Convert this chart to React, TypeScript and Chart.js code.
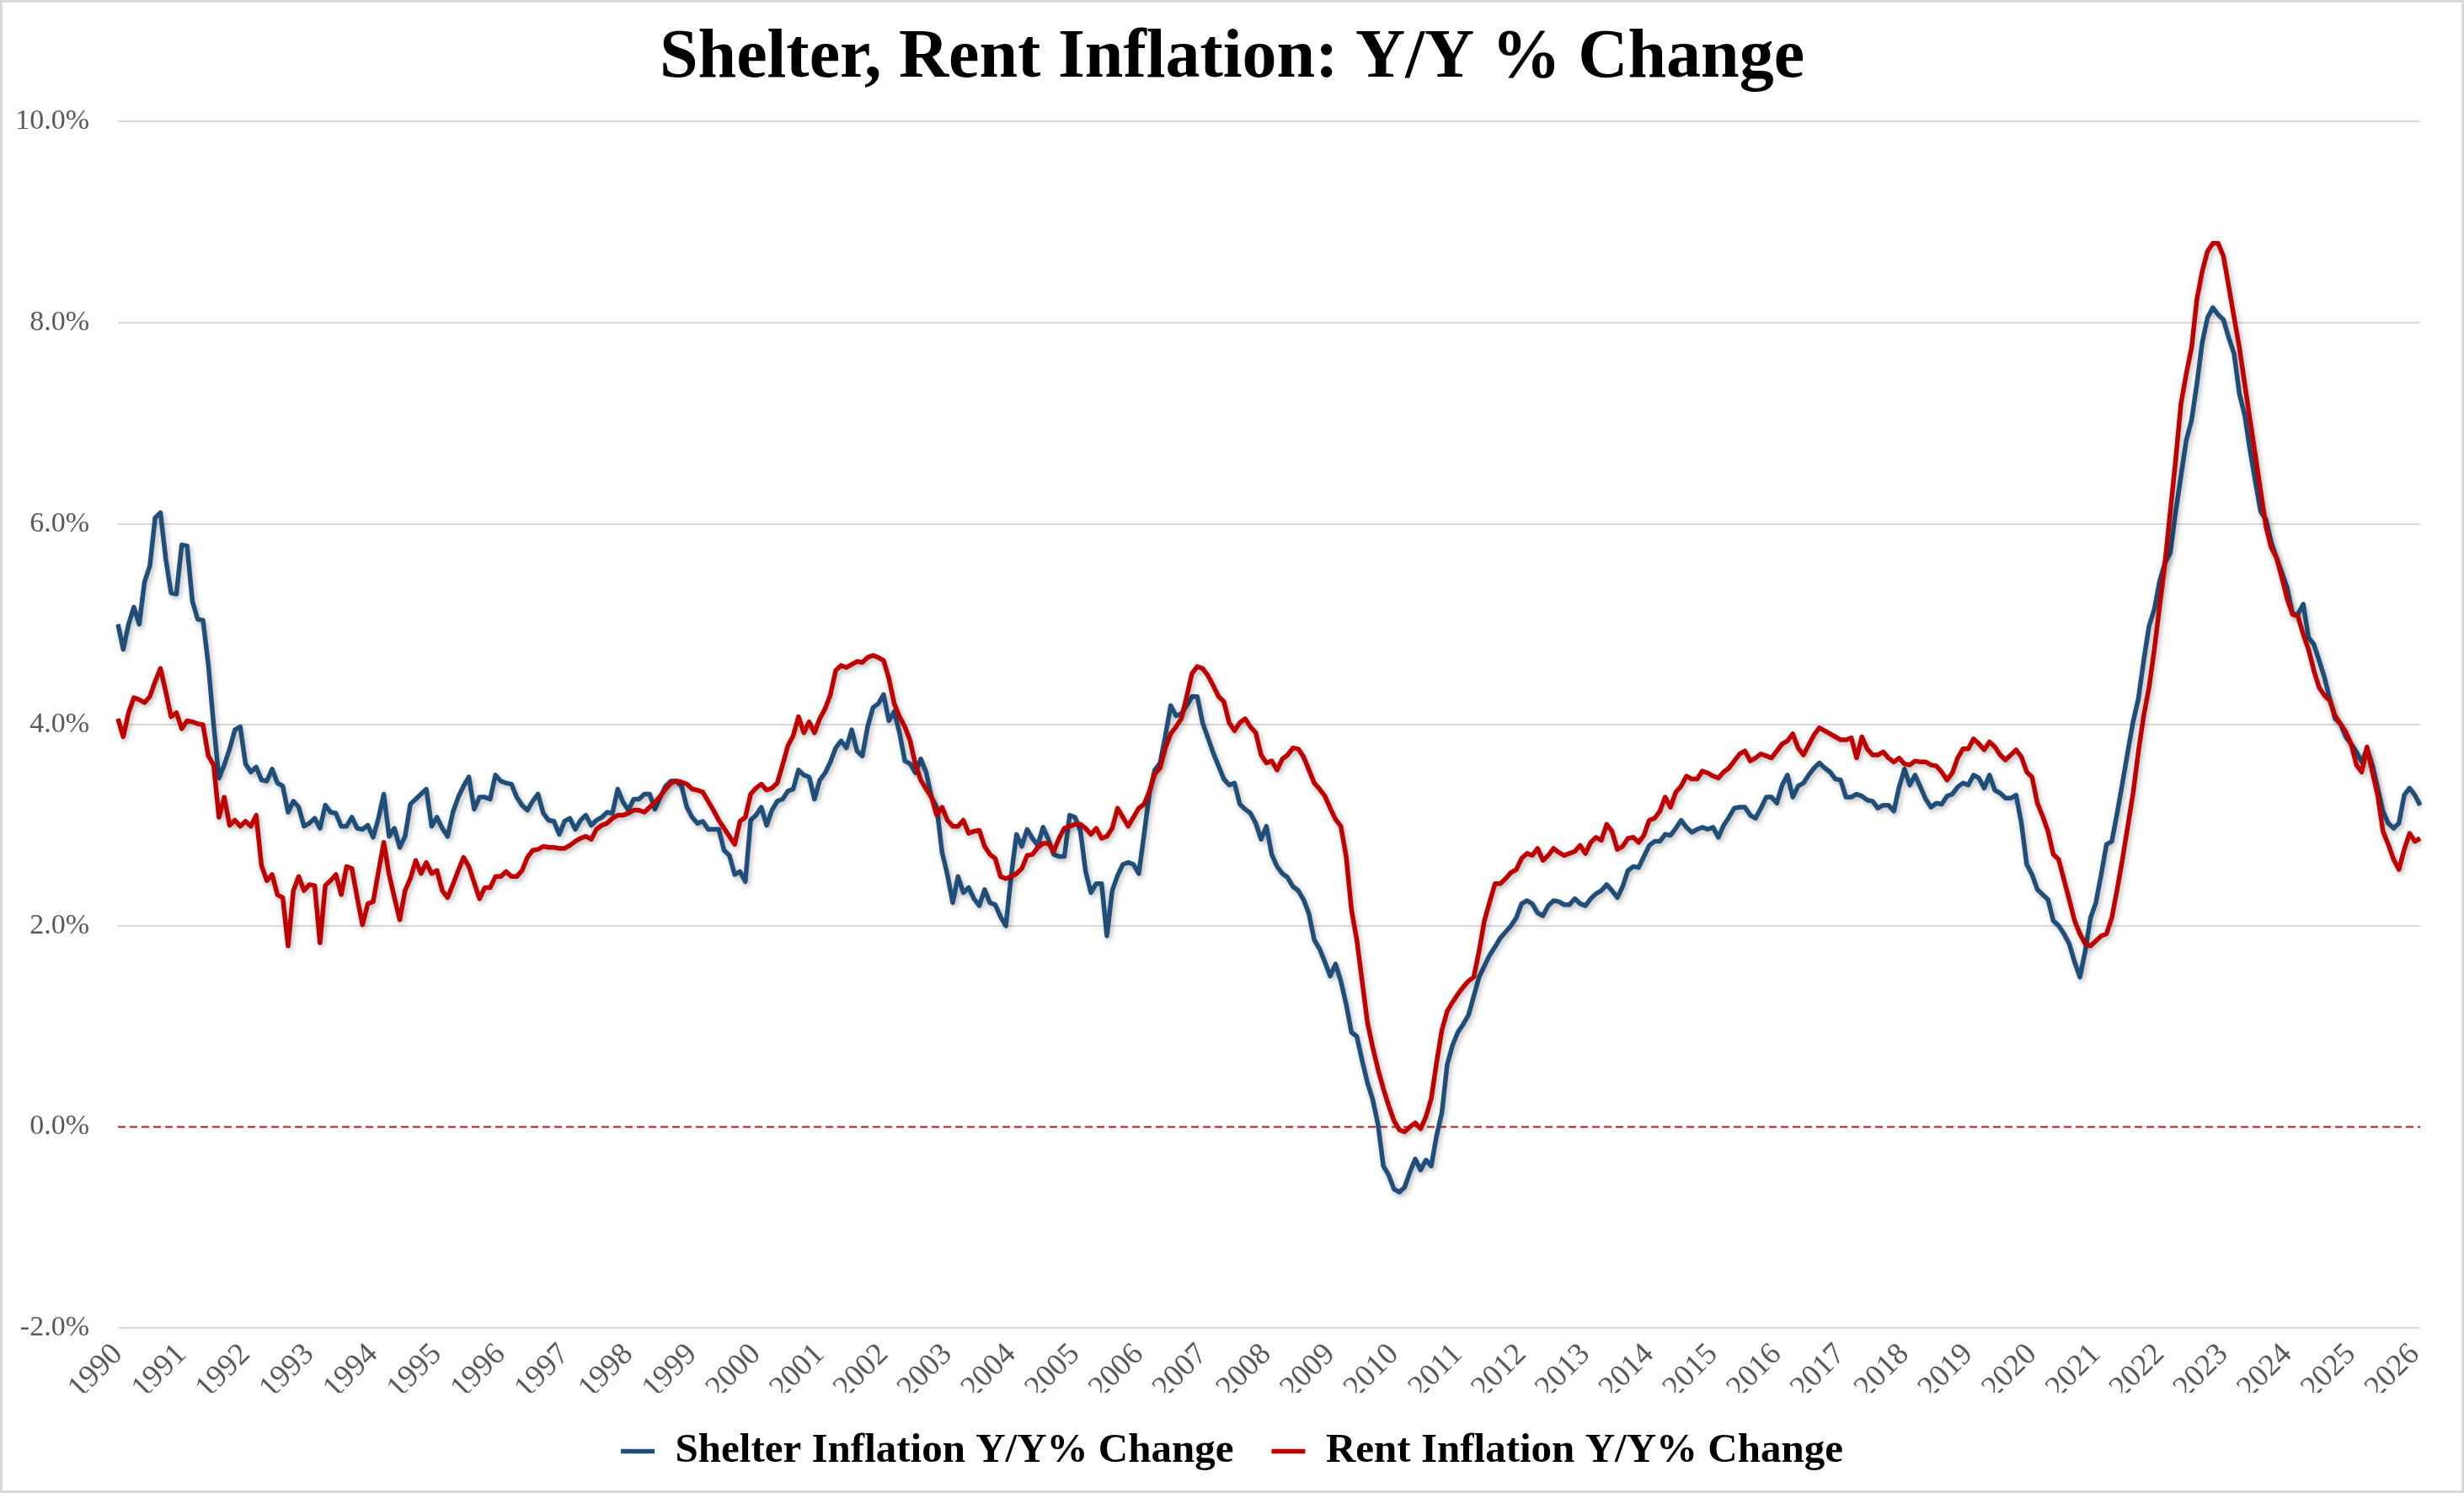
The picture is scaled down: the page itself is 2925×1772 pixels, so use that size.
import React, { useEffect, useRef } from "react";
import { Chart, registerables } from "chart.js";

Chart.register(...registerables);

const TITLE = "Shelter, Rent Inflation: Y/Y % Change";
const SHELTER_LABEL = "Shelter Inflation Y/Y% Change";
const RENT_LABEL = "Rent Inflation Y/Y% Change";

const YEARS = [
  "1990", "1991", "1992", "1993", "1994", "1995", "1996", "1997", "1998", "1999",
  "2000", "2001", "2002", "2003", "2004", "2005", "2006", "2007", "2008", "2009",
  "2010", "2011", "2012", "2013", "2014", "2015", "2016", "2017", "2018", "2019",
  "2020", "2021", "2022", "2023", "2024", "2025", "2026",
];

const MONTHS = ["01", "02", "03", "04", "05", "06", "07", "08", "09", "10", "11", "12"];

// Shelter inflation, Y/Y % (monthly)
const SHELTER = [
  5.0, 4.75, 5.0, 5.17, 5.0, 5.42, 5.58, 6.06, 6.11, 5.65, 5.31, 5.3,
  5.79, 5.78, 5.23, 5.05, 5.04, 4.6, 4.0, 3.47, 3.6, 3.76, 3.95, 3.98,
  3.61, 3.53, 3.58, 3.45, 3.44, 3.56, 3.42, 3.39, 3.13, 3.24, 3.18, 2.99,
  3.02, 3.07, 2.97, 3.2, 3.13, 3.12, 2.99, 2.99, 3.08, 2.97, 2.96, 3.0,
  2.88, 3.07, 3.31, 2.89, 2.97, 2.78, 2.89, 3.21, 3.26, 3.31, 3.36, 2.99,
  3.08, 2.97, 2.89, 3.13, 3.28, 3.39, 3.48, 3.16, 3.28, 3.28, 3.26, 3.5,
  3.44, 3.42, 3.41, 3.28, 3.2, 3.15, 3.24, 3.31, 3.12, 3.05, 3.04, 2.91,
  3.04, 3.07, 2.96, 3.05, 3.1, 3.0, 3.05, 3.08, 3.13, 3.12, 3.36, 3.23,
  3.15, 3.26, 3.26, 3.31, 3.31, 3.16, 3.28, 3.39, 3.44, 3.44, 3.39, 3.18,
  3.08, 3.02, 3.04, 2.96, 2.96, 2.96, 2.75, 2.7, 2.51, 2.54, 2.44, 3.05,
  3.1, 3.18, 3.0, 3.15, 3.24, 3.26, 3.34, 3.36, 3.55, 3.5, 3.48, 3.26,
  3.45, 3.52, 3.63, 3.77, 3.84, 3.77, 3.95, 3.74, 3.69, 3.98, 4.17, 4.21,
  4.3, 4.04, 4.13, 3.92, 3.64, 3.61, 3.52, 3.66, 3.53, 3.28, 3.18, 2.73,
  2.51, 2.23, 2.49, 2.33, 2.38, 2.27, 2.2, 2.36, 2.23, 2.21, 2.09, 2.0,
  2.5, 2.91, 2.79, 2.96, 2.87, 2.8, 2.98, 2.86, 2.71, 2.69, 2.69, 3.1,
  3.08, 2.95, 2.54, 2.33, 2.42, 2.42, 1.9, 2.35, 2.5, 2.61, 2.63, 2.61,
  2.52, 2.91, 3.32, 3.55, 3.62, 3.89, 4.19, 4.09, 4.11, 4.19, 4.28, 4.28,
  4.02, 3.87, 3.72, 3.59, 3.46, 3.4, 3.42, 3.21, 3.16, 3.12, 3.02, 2.86,
  2.99, 2.71, 2.59, 2.52, 2.48, 2.39, 2.35, 2.26, 2.12, 1.86, 1.77, 1.64,
  1.5, 1.62, 1.45, 1.22, 0.94, 0.9, 0.66, 0.44, 0.27, 0.02, -0.39, -0.48,
  -0.62, -0.65, -0.6, -0.45, -0.32, -0.43, -0.33, -0.39, -0.09, 0.14, 0.62, 0.81,
  0.94, 1.02, 1.11, 1.3, 1.49, 1.6, 1.71, 1.79, 1.88, 1.94, 2.0, 2.08,
  2.22, 2.25, 2.22, 2.13, 2.1, 2.2, 2.25, 2.24, 2.21, 2.21, 2.27, 2.22,
  2.2, 2.27, 2.32, 2.35, 2.41, 2.35, 2.28, 2.39, 2.55, 2.59, 2.58, 2.69,
  2.8, 2.84, 2.84, 2.91, 2.9, 2.97, 3.05, 2.98, 2.93, 2.96, 2.98, 2.96,
  2.98, 2.88, 3.0, 3.08, 3.17, 3.18, 3.18, 3.1, 3.07, 3.17, 3.28, 3.28,
  3.22, 3.4, 3.5, 3.28, 3.39, 3.42, 3.5, 3.57, 3.62, 3.57, 3.53, 3.46,
  3.45, 3.28, 3.28, 3.31, 3.29, 3.25, 3.24, 3.17, 3.2, 3.2, 3.14, 3.38,
  3.56, 3.4, 3.5, 3.38, 3.26, 3.18, 3.22, 3.21, 3.29, 3.31, 3.38, 3.42,
  3.4, 3.5, 3.47, 3.37, 3.5, 3.35, 3.32, 3.27, 3.27, 3.3, 3.02, 2.61,
  2.51, 2.36, 2.31, 2.26, 2.05, 2.0, 1.92, 1.82, 1.64, 1.49, 1.75, 2.08,
  2.23, 2.51, 2.81, 2.84, 3.12, 3.42, 3.73, 4.03, 4.26, 4.64, 4.98, 5.15,
  5.43, 5.61, 5.71, 6.12, 6.47, 6.83, 7.03, 7.39, 7.8, 8.05, 8.15, 8.08,
  8.03, 7.85, 7.69, 7.29, 7.08, 6.73, 6.42, 6.12, 6.04, 5.81, 5.66, 5.51,
  5.36, 5.1, 5.1, 5.2, 4.87, 4.8, 4.64, 4.47, 4.26, 4.06, 4.01, 3.88,
  3.81, 3.73, 3.63, 3.76, 3.6, 3.37, 3.14, 3.02, 2.97, 3.02, 3.3, 3.37,
  3.3, 3.2,
];

// Rent inflation, Y/Y % (monthly)
const RENT = [
  4.06, 3.88, 4.12, 4.27, 4.25, 4.22, 4.28, 4.43, 4.56, 4.33, 4.08, 4.12,
  3.96, 4.04, 4.03, 4.01, 4.0, 3.69, 3.6, 3.08, 3.28, 3.0, 3.05, 2.99,
  3.04, 2.99, 3.1, 2.6, 2.45, 2.51, 2.31, 2.28, 1.8, 2.35, 2.49, 2.35,
  2.41, 2.4, 1.83, 2.4, 2.45, 2.51, 2.31, 2.59, 2.57, 2.28, 2.01, 2.22,
  2.24, 2.54, 2.83, 2.51, 2.28, 2.06, 2.35, 2.47, 2.65, 2.52, 2.63, 2.52,
  2.55, 2.35, 2.28, 2.41, 2.55, 2.68, 2.59, 2.43, 2.27, 2.38, 2.38, 2.49,
  2.49, 2.54, 2.49, 2.49, 2.55, 2.68, 2.75, 2.76, 2.79, 2.78, 2.78, 2.77,
  2.77, 2.8, 2.84, 2.87, 2.89, 2.86, 2.96, 3.0, 3.02, 3.07, 3.1, 3.1,
  3.12, 3.15, 3.15, 3.13, 3.18, 3.23, 3.29, 3.36, 3.42, 3.44, 3.43, 3.41,
  3.36, 3.35, 3.33, 3.24, 3.15, 3.05, 2.97, 2.89, 2.81, 3.04, 3.08, 3.31,
  3.37, 3.41, 3.35, 3.37, 3.42, 3.6, 3.79, 3.89, 4.08, 3.92, 4.03, 3.92,
  4.06, 4.16, 4.3, 4.54, 4.59, 4.57, 4.6, 4.63, 4.62, 4.67, 4.69, 4.67,
  4.64, 4.46, 4.21, 4.08, 3.98, 3.84, 3.6, 3.45, 3.36, 3.28, 3.1, 3.18,
  3.05, 2.99, 2.99, 3.05, 2.92, 2.94, 2.95, 2.79, 2.71, 2.67, 2.49, 2.47,
  2.49, 2.52, 2.57, 2.7, 2.71, 2.78, 2.82, 2.82, 2.74, 2.87, 2.97, 2.99,
  3.01, 3.01, 2.97, 2.91, 2.97, 2.87, 2.89, 2.97, 3.17, 3.08, 2.99, 3.08,
  3.17, 3.21, 3.34, 3.51, 3.57, 3.77, 3.91, 3.98, 4.06, 4.28, 4.51, 4.58,
  4.56, 4.49, 4.39, 4.28, 4.23, 4.02, 3.94, 4.02, 4.06, 3.98, 3.92, 3.7,
  3.62, 3.64, 3.55, 3.66, 3.7, 3.77, 3.76, 3.68, 3.55, 3.42, 3.36, 3.29,
  3.17, 3.06, 2.99, 2.69, 2.16, 1.86, 1.45, 1.04, 0.79, 0.57, 0.38, 0.21,
  0.06, -0.03, -0.05, 0.0, 0.04, -0.02, 0.1, 0.28, 0.64, 0.96, 1.15, 1.24,
  1.32, 1.39, 1.45, 1.49, 1.75, 2.05, 2.24, 2.42, 2.42, 2.47, 2.53, 2.56,
  2.67, 2.72, 2.7, 2.77, 2.65, 2.7, 2.77, 2.73, 2.7, 2.72, 2.74, 2.8,
  2.72, 2.83, 2.88, 2.85, 3.01, 2.94, 2.76, 2.79, 2.87, 2.88, 2.83, 2.9,
  3.05, 3.07, 3.14, 3.28, 3.18, 3.33, 3.39, 3.49, 3.46, 3.46, 3.54, 3.52,
  3.49, 3.47, 3.53, 3.57, 3.64, 3.71, 3.74, 3.64, 3.67, 3.71, 3.69, 3.67,
  3.74, 3.81, 3.84, 3.91, 3.77, 3.7, 3.8, 3.9, 3.97, 3.94, 3.91, 3.88,
  3.85, 3.85, 3.87, 3.67, 3.88, 3.76, 3.7, 3.7, 3.73, 3.67, 3.63, 3.67,
  3.61, 3.6, 3.64, 3.63, 3.63, 3.6, 3.59, 3.53, 3.45, 3.52, 3.67, 3.76,
  3.76, 3.86, 3.81, 3.75, 3.83, 3.78, 3.7, 3.65, 3.7, 3.75, 3.68, 3.53,
  3.48, 3.22, 3.09, 2.94, 2.71, 2.66, 2.46, 2.26, 2.05, 1.92, 1.82, 1.8,
  1.85, 1.9, 1.92, 2.08, 2.36, 2.66, 2.99, 3.32, 3.73, 4.09, 4.37, 4.75,
  5.18, 5.61, 6.12, 6.63, 7.19, 7.49, 7.75, 8.23, 8.51, 8.71, 8.79, 8.79,
  8.66, 8.36, 8.05, 7.75, 7.39, 7.03, 6.68, 6.32, 5.97, 5.76, 5.66, 5.46,
  5.25, 5.1, 5.08, 4.9, 4.75, 4.54, 4.37, 4.29, 4.24, 4.09, 4.01, 3.93,
  3.81, 3.6, 3.53, 3.78, 3.53, 3.3, 2.94, 2.81, 2.66, 2.56, 2.76, 2.92,
  2.84, 2.87,
];

const Y_MIN = -2;
const Y_MAX = 10;
const Y_STEP = 2;
const ZERO_LINE = 0;

const SERIF = "'Liberation Serif', 'Times New Roman', serif";

const LEGEND_FONT = 49;
const LEGEND_PAD = 45;
const LEGEND_HEIGHT = 109;

const framePlugin = {
  id: "frame",
  beforeDraw(chart: any) {
    const { ctx, width, height } = chart;
    ctx.save();
    ctx.fillStyle = "#ffffff";
    ctx.fillRect(0, 0, width, height);
    ctx.strokeStyle = "#d9d9d9";
    ctx.lineWidth = 3;
    ctx.strokeRect(1.5, 1.5, width - 3, height - 3);
    ctx.restore();
  },
};

// keep the legend box compact while allowing wide horizontal spacing between items
const legendHeightPlugin = {
  id: "legendHeight",
  beforeLayout(chart: any) {
    const lg = chart.legend;
    if (lg && !lg.__fixedHeight) {
      const orig = lg.fit.bind(lg);
      lg.fit = function () {
        orig();
        this.height = LEGEND_HEIGHT;
      };
      lg.__fixedHeight = true;
    }
  },
};

const zeroLinePlugin = {
  id: "zeroLine",
  beforeDatasetsDraw(chart: any) {
    const { ctx, chartArea, scales } = chart;
    const y = scales.y.getPixelForValue(ZERO_LINE);
    ctx.save();
    ctx.strokeStyle = "#b01c1c";
    ctx.lineWidth = 2;
    ctx.setLineDash([9, 5]);
    ctx.beginPath();
    ctx.moveTo(chartArea.left, y);
    ctx.lineTo(chartArea.right, y);
    ctx.stroke();
    ctx.restore();
  },
};

const shadowPlugin = {
  id: "lineShadow",
  beforeDatasetDraw(chart: any) {
    const ctx = chart.ctx;
    ctx.save();
    ctx.shadowColor = "rgba(0,0,0,0.28)";
    ctx.shadowBlur = 6;
    ctx.shadowOffsetX = 2;
    ctx.shadowOffsetY = 3;
  },
  afterDatasetDraw(chart: any) {
    chart.ctx.restore();
  },
};

export default function App() {
  const ref = useRef<HTMLCanvasElement | null>(null);

  useEffect(() => {
    document.body.style.margin = "0";
    const canvas = ref.current;
    if (!canvas) return;
    const labels = SHELTER.map(
      (_, i) => `${YEARS[Math.floor(i / 12)]}-${MONTHS[i % 12]}`
    );
    const chart = new Chart(canvas, {
      type: "line",
      data: {
        labels,
        datasets: [
          {
            label: SHELTER_LABEL,
            data: SHELTER,
            borderColor: "#1f4e79",
            backgroundColor: "#1f4e79",
            borderWidth: 5.5,
            pointRadius: 0,
            borderJoinStyle: "round",
            tension: 0,
            order: 1,
          },
          {
            label: RENT_LABEL,
            data: RENT,
            borderColor: "#c00000",
            backgroundColor: "#c00000",
            borderWidth: 5.5,
            pointRadius: 0,
            borderJoinStyle: "round",
            tension: 0,
            order: 0,
          },
        ],
      },
      options: {
        animation: false,
        responsive: false,
        maintainAspectRatio: false,
        layout: { padding: { left: 18, right: 18, top: 0, bottom: 10 } },
        plugins: {
          title: {
            display: true,
            text: TITLE,
            color: "#000000",
            font: { family: SERIF, size: 82, weight: "bold", lineHeight: 1.2 },
            padding: { top: 21, bottom: 25 },
          },
          legend: {
            display: true,
            position: "bottom",
            labels: {
              usePointStyle: true,
              pointStyle: "line",
              pointStyleWidth: 40,
              color: "#000000",
              font: { family: SERIF, size: LEGEND_FONT, weight: "bold" },
              padding: LEGEND_PAD,
              sort: (a: any, b: any) => a.datasetIndex - b.datasetIndex,
            },
          },
          tooltip: { enabled: false },
        },
        scales: {
          x: {
            type: "category",
            grid: { display: false },
            border: { display: false },
            ticks: {
              autoSkip: false,
              minRotation: 45,
              maxRotation: 45,
              padding: 2,
              color: "#595959",
              font: { family: SERIF, size: 37 },
              callback: (_v: any, i: number) =>
                i % 12 === 0 ? YEARS[i / 12] : null,
            },
            afterFit: (s: any) => {
              s.height = 77;
            },
          },
          y: {
            position: "left",
            min: Y_MIN,
            max: Y_MAX,
            border: { display: false },
            grid: {
              color: (c: any) =>
                c.tick && c.tick.value === ZERO_LINE ? "rgba(0,0,0,0)" : "#d9d9d9",
              lineWidth: 2,
              drawTicks: false,
            },
            ticks: {
              stepSize: Y_STEP,
              padding: 34,
              color: "#595959",
              font: { family: SERIF, size: 34 },
              callback: (v: any) => Number(v).toFixed(1) + "%",
            },
            afterFit: (s: any) => {
              s.width = 122;
            },
          },
          yRight: {
            type: "linear",
            position: "right",
            display: true,
            min: Y_MIN,
            max: Y_MAX,
            grid: { display: false },
            border: { display: false },
            ticks: { display: false },
            afterFit: (s: any) => {
              s.width = 34;
            },
          },
        },
      } as any,
      plugins: [framePlugin, legendHeightPlugin, zeroLinePlugin, shadowPlugin],
    });
    return () => chart.destroy();
  }, []);

  return (
    <canvas
      ref={ref}
      width={2925}
      height={1772}
      style={{ display: "block", width: 2925, height: 1772 }}
    />
  );
}
